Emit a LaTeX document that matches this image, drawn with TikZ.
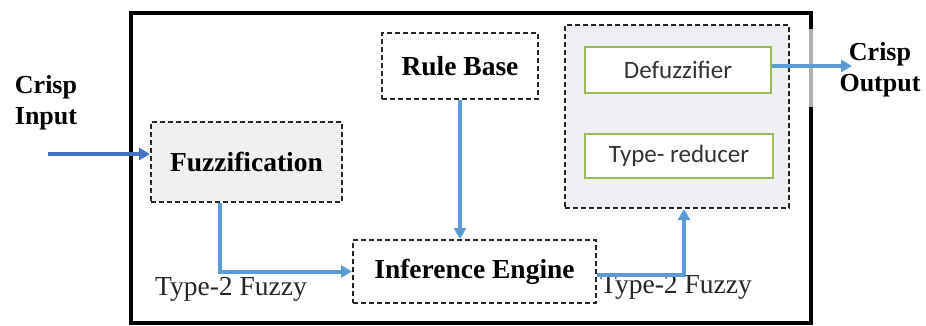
\documentclass[tikz,border=0pt]{standalone}
\usepackage{fontspec}
\setmainfont{Liberation Serif}
\newfontfamily\calib{Carlito}
\usetikzlibrary{arrows.meta}
\definecolor{arrblue}{HTML}{5B9BD5}
\definecolor{arrdark}{HTML}{4472C4}
\definecolor{boxgreen}{HTML}{9BBB59}
\definecolor{grpfill}{HTML}{EEF0F4}
\definecolor{fzfill}{HTML}{F0F0F0}
\tikzset{
  dbox/.style={draw=black!85, line width=2pt, dash pattern=on 5pt off 3pt, inner sep=0pt, font=\fontsize{27.5}{30}\selectfont\bfseries},
  gbox/.style={draw=boxgreen, line width=1.8pt, fill=white, inner sep=0pt, font=\calib\fontsize{25}{28}\selectfont, text=black!80},
  conn/.style={draw=arrblue, line width=4pt, -{Triangle[length=11pt,width=12pt]}},
  lbl/.style={font=\fontsize{27.5}{30}\selectfont, inner sep=0pt, anchor=base west, text=black!85},
  blbl/.style={font=\fontsize{26}{31}\selectfont\bfseries, align=center, inner sep=0pt}
}
\begin{document}
\begin{tikzpicture}[x=1pt,y=-1pt]
\useasboundingbox (0,0) rectangle (926,325);
% outer frame
\draw[line width=4pt] (131,13) rectangle (811,323);
\draw[line width=4.2pt, draw=black!30] (811,29) -- (811,107);
% group box
\node[dbox, fill=grpfill, minimum width=224pt, minimum height=183pt] (grp) at (677,116.5) {};
\node[gbox, minimum width=186pt, minimum height=46pt] (df) at (678,70) {Defuzzifier};
\node[gbox, minimum width=188pt, minimum height=44pt] (tr) at (679,156) {Type- reducer};
% main blocks
\node[dbox, fill=fzfill, minimum width=191pt, minimum height=80pt] (fz) at (246.5,162) {Fuzzification};
\node[dbox, fill=white, minimum width=156pt, minimum height=66pt] (rb) at (460,66) {Rule Base};
\node[dbox, fill=white, minimum width=243pt, minimum height=63pt] (ie) at (474.5,271.5) {Inference Engine};
% labels
\node[blbl] (cin) at (46,103) {Crisp\\Input};
\node[blbl] (cout) at (880,70) {Crisp\\Output};
\node[lbl] (t1) at (155,295) {Type-2 Fuzzy};
\node[lbl] (t2) at (600,293) {Type-2 Fuzzy};
% connectors
\coordinate (inS) at (48,154);
\coordinate (outE) at (852,66);
\draw[conn, draw=arrdark] (inS) -- (inS -| fz.west);
\draw[conn] ([xshift=-26.5pt]fz.south) |- (ie.west);
\draw[conn] (rb.south) -- (rb.south |- ie.north);
\draw[conn] ([yshift=-3pt]ie.east) -| ([xshift=7pt]grp.south);
\draw[conn] (outE -| df.east) -- (outE);
\end{tikzpicture}
\end{document}
